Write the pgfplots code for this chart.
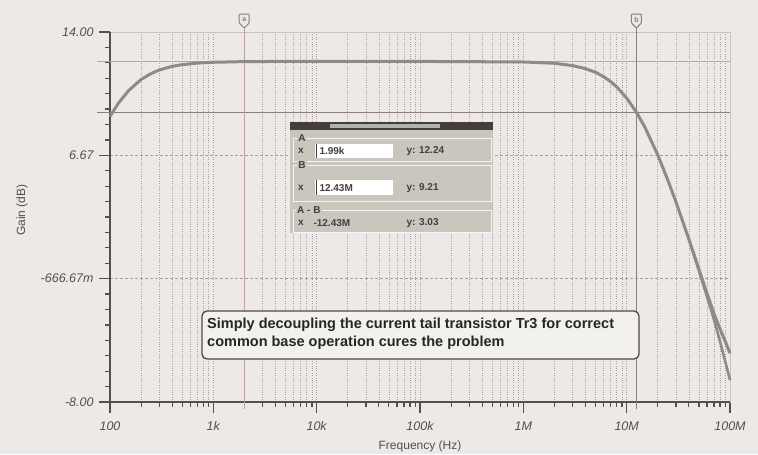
\documentclass[border=0pt]{standalone}
\usepackage{pgfplots}
\pgfplotsset{compat=1.18}
\usepackage{fontspec}
\setmainfont{Liberation Sans}
\definecolor{bg}{RGB}{236,233,231}
\definecolor{gridc}{RGB}{165,160,160}
\definecolor{axisc}{RGB}{85,78,80}
\definecolor{lightax}{RGB}{200,194,194}
\definecolor{curve1}{RGB}{140,140,132}
\definecolor{curA}{RGB}{192,160,162}
\definecolor{curB}{RGB}{140,125,128}
\definecolor{boxfill}{RGB}{202,197,189}
\definecolor{header}{RGB}{70,62,62}
\definecolor{annfill}{RGB}{243,241,237}
\definecolor{annborder}{RGB}{80,72,72}
\begin{document}
\begin{tikzpicture}[x=1pt,y=1pt]
\fill[bg] (0,0) rectangle (758,454);
\begin{axis}[at={(110pt,52pt)}, anchor=south west, scale only axis,
  width=620pt, height=370pt,
  xmode=log, xmin=100, xmax=1e8, ymin=-8, ymax=14,
  axis line style={draw=lightax, line width=1pt},
  xtick pos=left, ytick pos=left,
  xtick={100,1000,10000,100000,1000000,10000000,100000000},
  xticklabels={100,1k,10k,100k,1M,10M,100M},
  ytick={-8,-0.66667,6.66667,14},
  yticklabels={-8.00,-666.67m,6.67,14.00},
  extra y ticks={-7.0833,-6.1667,-5.25,-4.3333,-3.4167,-2.5,-1.5833,0.25,1.1667,2.0833,3.0,3.9167,4.8333,5.75,7.5833,8.5,9.4167,10.3333,11.25,12.1667,13.0833},
  extra y tick labels={},
  extra y tick style={major tick length=5pt, ytick style={draw=axisc, line width=1.2pt}},
  tick align=outside,
  xtick style={draw=axisc, line width=1.2pt},
  ytick style={draw=axisc, line width=1.2pt},
  major tick length=11pt, minor tick length=4.5pt,
  xmajorgrids, xminorgrids,
  major grid style={gridc, dotted, line width=0.7pt},
  minor grid style={gridc, dotted, line width=0.7pt},
  ticklabel style={font=\fontsize{12.5}{14}\selectfont\itshape, text=axisc},
  xticklabel style={yshift=-5pt},
  yticklabel style={xshift=-2pt},
  clip=false,
]
% horizontal grid lines
\draw[gridc, dash pattern=on 3pt off 2pt, line width=0.7pt] (axis cs:100,6.66667) -- (axis cs:1e8,6.66667);
\draw[gridc, dash pattern=on 3pt off 2pt, line width=0.7pt] (axis cs:100,-0.66667) -- (axis cs:1e8,-0.66667);
% dark left and bottom axis lines
\draw[axisc, line width=1.3pt] (rel axis cs:0,1) -- (rel axis cs:0,0) -- (rel axis cs:1,0);
\draw[axisc, line width=1.3pt] (rel axis cs:0,0) -- ++(0pt,-10pt);
% cursor lines
\draw[curA, line width=1.2pt] (axis cs:75,12.24) -- (axis cs:1e8,12.24);
\draw[curB, line width=1.2pt] (axis cs:75,9.21) -- (axis cs:1e8,9.21);
\draw[curA, line width=1.3pt] (axis cs:1990,-8.4) -- (axis cs:1990,14.24);
\draw[curB, line width=1.3pt] (axis cs:12430000,-8.4) -- (axis cs:12430000,14.24);
\coordinate (ca) at (axis cs:1990,14);
\coordinate (cb) at (axis cs:12430000,14);
% gain curve
\addplot[curve1, line width=3pt] coordinates {
(100,8.98) (120,9.75) (150,10.49) (200,11.18) (250,11.53) (300,11.74)
(400,11.96) (500,12.06) (700,12.15) (1000,12.20) (2000,12.24) (5000,12.25)
(10000,12.25) (100000,12.25) (1000000,12.22) (2000000,12.14) (3000000,12.00)
(4000000,11.82) (5000000,11.60) (6000000,11.34) (7000000,11.05) (8000000,10.74)
(10000000,10.07) (12430000,9.23) (15000000,8.34) (20000000,6.69) (25000000,5.20)
(30000000,3.89) (40000000,1.68) (50000000,-0.10) (60000000,-1.55) (70000000,-2.75)
(80000000,-3.65) (90000000,-4.40) (100000000,-5.10)};
\addplot[curve1, line width=2.6pt] coordinates {
(40000000,1.68) (50000000,-0.20) (60000000,-1.75) (70000000,-3.10)
(80000000,-4.40) (90000000,-5.60) (100000000,-6.70)};
\end{axis}
% axis labels
\node[font=\fontsize{12}{14}\selectfont, text=axisc] at (420,8) {Frequency (Hz)};
\node[font=\fontsize{12}{14}\selectfont, text=axisc, rotate=90] at (22,244) {Gain (dB)};
% cursor markers
\foreach \c/\l in {ca/a,cb/b}{
\begin{scope}[shift={(\c)}]
\draw[curB, line width=1pt, fill=bg, rounded corners=1pt] (0,4) -- (-5,9) -- (-5,18) -- (5,18) -- (5,9) -- cycle;
\node[text=curB, font=\fontsize{7}{8}\selectfont\bfseries, inner sep=0pt] at (0,12.5) {\l};
\end{scope}}
% cursor info box
\fill[boxfill] (290,221) rectangle (493,332);
\fill[header] (290,324) rectangle (493,332);
\fill[gray!60] (330,326) rectangle (440,330);
\draw[white!80!boxfill, line width=0.6pt] (293,293) rectangle (491,316);
\draw[white!80!boxfill, line width=0.6pt] (293,253) rectangle (491,289);
\draw[white!80!boxfill, line width=0.6pt] (293,222) rectangle (491,244);
\begin{scope}[font=\fontsize{10}{12}\selectfont\bfseries, text=header]
\node[fill=boxfill, inner sep=1pt] at (302,316) {A};
\node[fill=boxfill, inner sep=1pt] at (302,289) {B};
\node[fill=boxfill, inner sep=1pt, anchor=west] at (296,244) {A - B};
\fill[white] (315,296) rectangle (393,310);
\fill[white] (315,259) rectangle (393,274);
\draw[header, line width=1pt] (316,296) -- (316,310);
\draw[header, line width=1pt] (316,259) -- (316,274);
\node at (301,303) {x};
\node at (301,266) {x};
\node at (301,231) {x};
\node[anchor=west] at (316,303) {1.99k};
\node[anchor=west] at (316,266) {12.43M};
\node[anchor=west] at (310,231) {-12.43M};
\node[anchor=west] at (403,303) {y: 12.24};
\node[anchor=west] at (403,266) {y: 9.21};
\node[anchor=west] at (403,231) {y: 3.03};
\end{scope}
% annotation
\draw[annborder, fill=annfill, line width=1.3pt, rounded corners=5pt] (202,95) rectangle (639,143);
\node[anchor=north west, align=left, font=\fontsize{14.5}{18}\selectfont\bfseries, text=black!85, inner sep=0pt] at (207,136)
{Simply decoupling the current tail transistor Tr3 for correct\\common base operation cures the problem};
\end{tikzpicture}
\end{document}
